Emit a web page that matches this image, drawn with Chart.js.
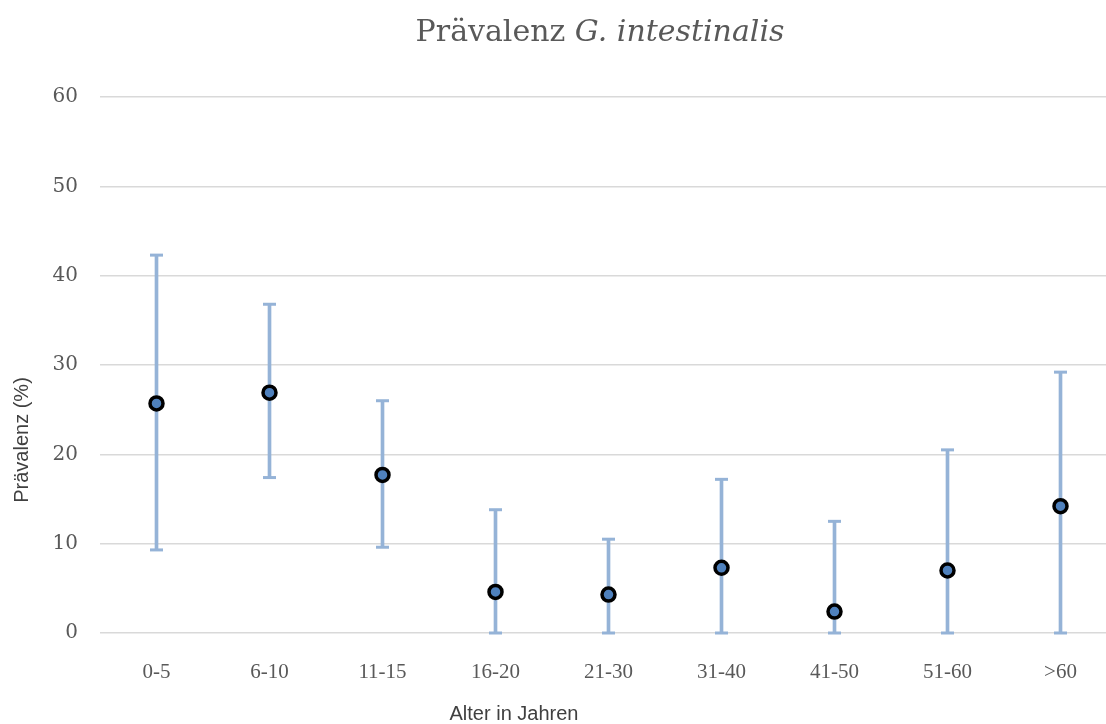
<!DOCTYPE html>
<html><head><meta charset="utf-8">
<script src="https://cdn.jsdelivr.net/npm/chart.js@4.4.0/dist/chart.umd.min.js"></script>
<style>
html,body{margin:0;padding:0;overflow:hidden;background:#fff;width:1106px;height:724px}
#wrap{position:absolute;left:0;top:0;width:1140px;height:724px}
</style>
</head><body><div id="wrap"><canvas id="c" width="1140" height="724"></canvas></div>
<script>
const categories = ['0-5','6-10','11-15','16-20','21-30','31-40','41-50','51-60','>60'];
const prevalence = [25.7, 26.9, 17.7, 4.6, 4.3, 7.3, 2.4, 7.0, 14.2];
const ciLower = [9.3, 17.4, 9.6, 0, 0, 0, 0, 0, 0];
const ciUpper = [42.3, 36.8, 26.0, 13.8, 10.5, 17.2, 12.5, 20.5, 29.2];
const yTicks = [0, 10, 20, 30, 40, 50, 60];
const titleMain = 'Prävalenz ';
const titleItalic = 'G. intestinalis';
const xTitle = 'Alter in Jahren';
const yTitle = 'Prävalenz (%)';

const errColor = '#95B3D7';
const serif = "'DejaVu Serif', serif";
const sans = "'Liberation Sans', Arial, sans-serif";

const titlesPlugin = {
  id: 'titles',
  afterDraw(chart) {
    const ctx = chart.ctx;
    ctx.save();
    ctx.fillStyle = '#595959';
    ctx.textBaseline = 'alphabetic';
    const f1 = "30px " + serif, f2 = "italic 30px " + serif;
    ctx.font = f1; const w1 = ctx.measureText(titleMain).width;
    ctx.font = f2; const w2 = ctx.measureText(titleItalic).width;
    let x = 600 - (w1 + w2) / 2;
    ctx.textAlign = 'left';
    ctx.font = f1; ctx.fillText(titleMain, x, 41);
    ctx.font = f2; ctx.fillText(titleItalic, x + w1, 41);
    ctx.fillStyle = '#404040';
    ctx.font = "20px " + sans;
    ctx.textAlign = 'center'; ctx.textBaseline = 'middle';
    ctx.fillText(xTitle, 514, 714);
    ctx.translate(22, 440); ctx.rotate(-Math.PI / 2);
    ctx.fillText(yTitle, 0, 0);
    ctx.restore();
  }
};

new Chart(document.getElementById('c'), {
  type: 'bar',
  data: {
    labels: categories,
    datasets: [
      { type: 'bar', data: categories.map((c, i) => [ciLower[i], ciUpper[i]]),
        backgroundColor: errColor, barThickness: 3, order: 3, grouped: false },
      { type: 'line', data: ciUpper, showLine: false, pointStyle: 'line', pointRadius: 6.5,
        pointBorderWidth: 3, pointBorderColor: errColor, borderColor: errColor, order: 2, clip: false },
      { type: 'line', data: ciLower, showLine: false, pointStyle: 'line', pointRadius: 6.5,
        pointBorderWidth: 3, pointBorderColor: errColor, borderColor: errColor, order: 2, clip: false },
      { type: 'line', data: prevalence, showLine: false, pointStyle: 'circle', pointRadius: 6.5,
        pointBorderWidth: 3.5, pointBorderColor: '#000000', pointBackgroundColor: '#4F81BD', order: 0, clip: false }
    ]
  },
  options: {
    responsive: false, animation: false, devicePixelRatio: 1,
    layout: { padding: { left: 0, right: 23, top: 97, bottom: 0 } },
    plugins: { legend: { display: false }, tooltip: { enabled: false }, title: { display: false } },
    scales: {
      x: {
        grid: { display: false }, border: { display: false },
        ticks: { font: { family: "'Liberation Serif', serif", size: 21 }, color: '#595959', padding: 19 },
        afterFit(s) { s.height = 91; }
      },
      y: {
        min: 0, max: 60,
        afterBuildTicks(s) { s.ticks = yTicks.map(v => ({ value: v })); },
        grid: { color: '#D9D9D9', lineWidth: 1.5, drawTicks: false }, border: { display: false },
        ticks: { font: { family: serif, size: 20 }, color: '#595959', padding: 22 },
        afterFit(s) { s.width = 100; }
      }
    }
  },
  plugins: [titlesPlugin]
});
</script></body></html>
